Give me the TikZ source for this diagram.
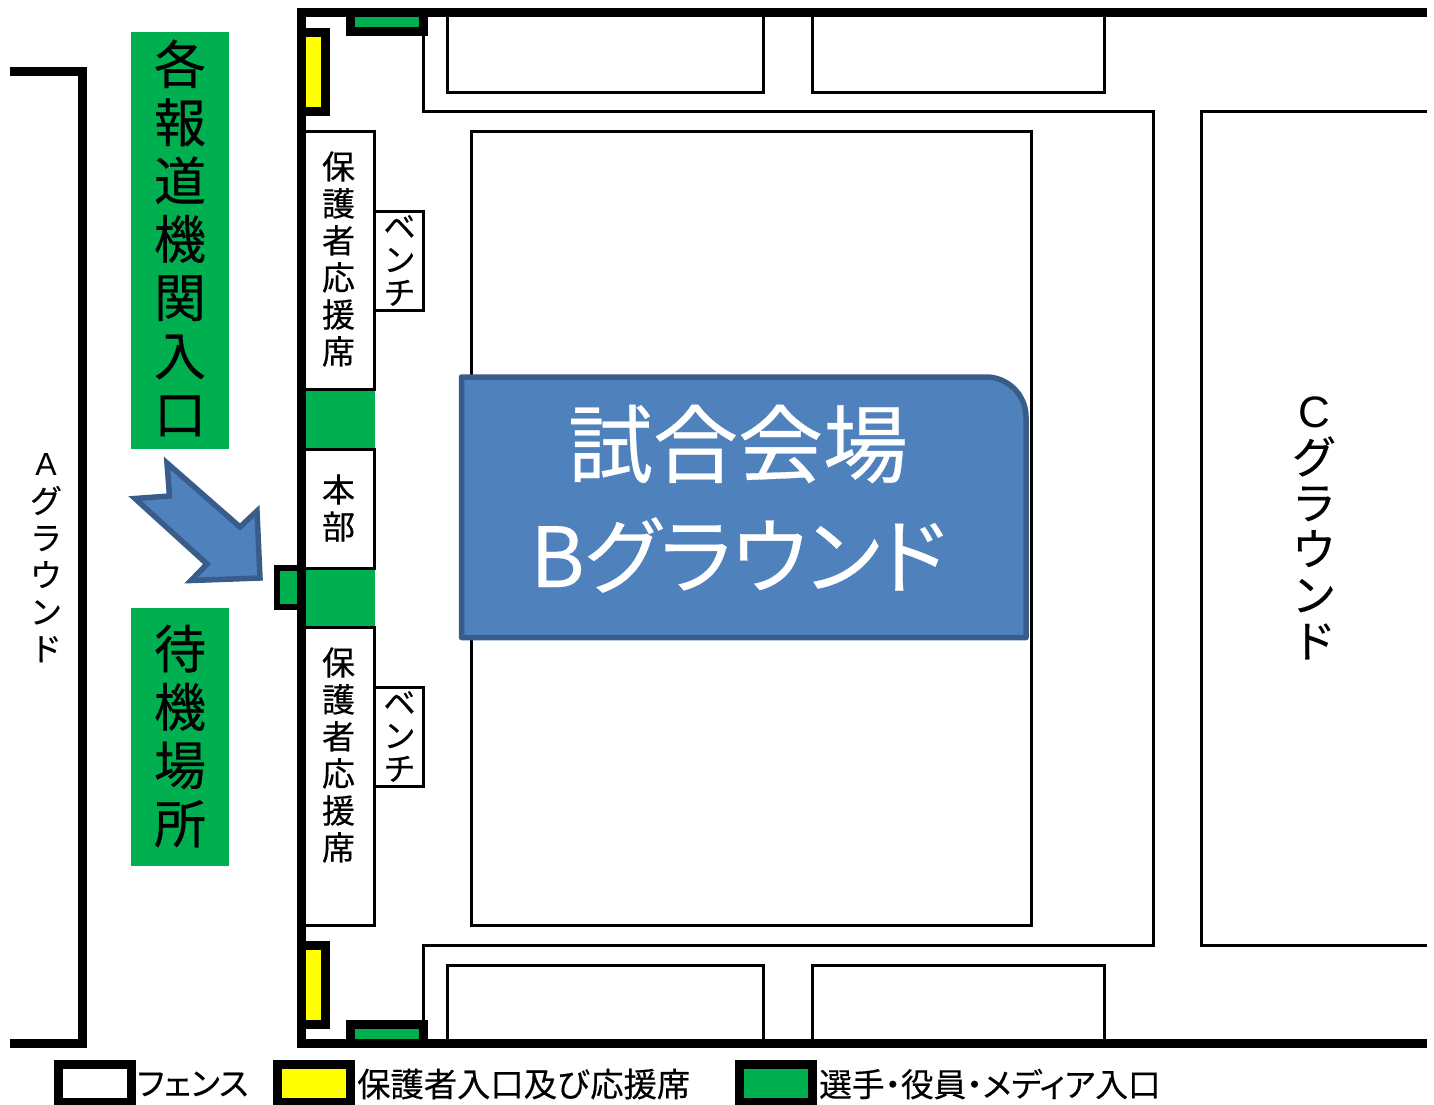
\documentclass[tikz,border=0pt]{standalone}
\usepackage{fontspec}
\setmainfont[FakeBold=0.35]{Noto Sans CJK JP}
\newfontfamily\jpp[RawFeature=+palt,FakeBold=0.35]{Noto Sans CJK JP}
\newfontfamily\arialf{Liberation Sans}
\definecolor{gateg}{HTML}{00B050}
\definecolor{blueF}{HTML}{4F81BD}
\definecolor{blueD}{HTML}{385D8A}
\definecolor{yel}{HTML}{FFFF00}
\newcommand{\fsz}[2]{\fontsize{#1}{#2}\selectfont}
\tikzset{
  fence/.style={line width=9pt,draw=black,line cap=butt,line join=miter},
  thin line/.style={line width=3pt,draw=black},
  gategreen/.style={fill=gateg,draw=none},
  gateyel/.style={fill=yel,draw=none},
  blueshape/.style={fill=blueF,draw=blueD,line width=5.5pt,line join=round},
  stack/.style={align=center,inner sep=0pt,text=black},
  bigstack/.style={stack,font=\fsz{52}{58.3}},
  seat/.style={stack,font=\fsz{33}{37}},
  bench/.style={stack,font=\fsz{32}{33}},
  ground/.style={stack},
  legend text/.style={anchor=west,inner sep=0pt,text=black},
  main label/.style={text=white,inner sep=0pt}
}
\begin{document}
\begin{tikzpicture}[x=1pt,y=-1pt]
\useasboundingbox (0,0) rectangle (1434,1104);
% court lines
\draw[thin line] (423.5,17) -- (423.5,111) -- (1153,111) -- (1153,945) -- (423.5,945) -- (423.5,1039);
\draw[thin line] (447,17) -- (447,92) -- (763.5,92) -- (763.5,17);
\draw[thin line] (812,17) -- (812,92) -- (1104.5,92) -- (1104.5,17);
\draw[thin line] (447,1039) -- (447,965) -- (763.5,965) -- (763.5,1039);
\draw[thin line] (812,1039) -- (812,965) -- (1104.5,965) -- (1104.5,1039);
\draw[thin line] (471.5,131.5) rectangle (1031.5,925);
\draw[thin line] (1427,111.5) -- (1201.5,111.5) -- (1201.5,945) -- (1427,945);
% seating boxes
\draw[thin line,fill=white] (304,131.5) rectangle (374.5,389);
\draw[thin line,fill=white] (304,449) rectangle (374.5,568);
\draw[thin line,fill=white] (304,627.5) rectangle (374.5,925);
\draw[thin line,fill=white] (374.5,211) rectangle (423.5,310);
\draw[thin line,fill=white] (374.5,687) rectangle (423.5,786.5);
\fill[gategreen] (304,391) rectangle (375,447.5);
\fill[gategreen] (304,570) rectangle (375,626);
% small gate on fence
\draw[line width=6pt,draw=black,fill=gateg] (297,568) -- (277,568) -- (277,607) -- (297,607);
% A fence
\draw[fence] (9.5,71.5) -- (82.5,71.5) -- (82.5,1043.5) -- (9.5,1043.5);
% main fence
\draw[fence] (1427,12.5) -- (301.5,12.5) -- (301.5,1043.5) -- (1427,1043.5);
% top gates
\fill[gategreen] (355,17) rectangle (419,27);
\draw[fence] (350.5,17) -- (350.5,31.5) -- (423.5,31.5) -- (423.5,17);
\fill[gateyel] (306,37) rectangle (321,107);
\draw[fence] (306,32.5) -- (325.5,32.5) -- (325.5,111.5) -- (306,111.5);
% bottom gates
\fill[gategreen] (355,1029) rectangle (419,1039);
\draw[fence] (350.5,1039) -- (350.5,1024.5) -- (423.5,1024.5) -- (423.5,1039);
\fill[gateyel] (306,950) rectangle (321,1020);
\draw[fence] (306,945) -- (325.5,945) -- (325.5,1024.5) -- (306,1024.5);
% green labels
\fill[gategreen] (131,32) rectangle (229,449);
\fill[gategreen] (131,608) rectangle (229,866);
\node[bigstack] (press) at (180,238) {各\\報\\道\\機\\関\\入\\口};
\node[bigstack] (wait) at (180,736) {待\\機\\場\\所};
% seat labels
\node[seat] (seatA) at (338.5,259) {保\\護\\者\\応\\援\\席};
\node[seat] (hq) at (338.5,508) {本\\部};
\node[seat] (seatB) at (338.5,755) {保\\護\\者\\応\\援\\席};
\node[bench] (benchA) at (399.5,260.5) {ベ\\ン\\チ};
\node[bench] (benchB) at (399.5,736.5) {ベ\\ン\\チ};
% grounds
\node[ground,font=\fsz{32}{37}] (groundA) at (46,558) {{\arialf A}\\グ\\ラ\\ウ\\ン\\ド};
\node[ground,font=\fsz{44}{46}] (groundC) at (1314,528) {{\arialf C}\\グ\\ラ\\ウ\\ン\\ド};
% main field label
\draw[blueshape] (461.5,377) -- (986,377) .. controls (1008,377) and (1026,395) .. (1026,417) -- (1026,637.5) -- (461.5,637.5) -- cycle;
\node[main label,font=\fsz{85}{85}] (title1) at (738,444) {試合会場};
\node[main label,font=\fsz{83}{83}\jpp] (title2) at (738,555) {Bグラウンド};
% arrow
\draw[blueshape,line join=miter,miter limit=10] (167,463) -- (169.5,496) -- (135,498.5) -- (207,564) -- (191,580.5) -- (260,578) -- (257,511) -- (240,527) -- cycle;
% legend
\draw[fence,fill=white] (58,1064) rectangle (131,1102);
\draw[fence,fill=yel] (277.5,1064) rectangle (350.5,1102);
\draw[fence,fill=gateg] (739.5,1064) rectangle (812.5,1102);
\node[legend text,font=\fsz{32.5}{33}\jpp] (lgA) at (137,1084) {フェンス};
\node[legend text,font=\fsz{33.3}{33}] (lgB) at (357,1084) {保護者入口及び応援席};
\node[legend text,font=\fsz{32.7}{33}\jpp] (lgC) at (819,1084) {選手・役員・メディア入口};
\end{tikzpicture}
\end{document}
